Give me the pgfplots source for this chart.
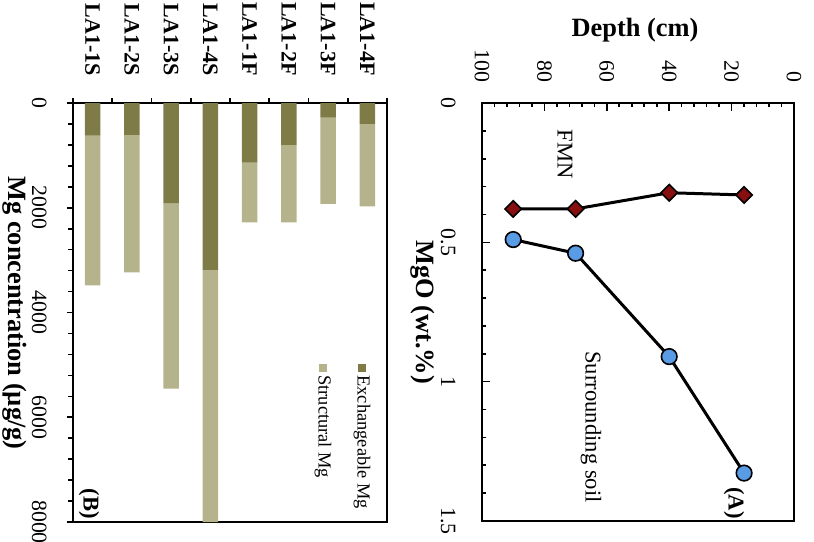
\documentclass[border=0pt]{standalone}
\usepackage{pgfplots}
\pgfplotsset{compat=1.18}
\usepackage{fontspec}
\setmainfont{Liberation Serif}
\definecolor{exch}{RGB}{126,123,71}
\definecolor{struc}{RGB}{181,179,139}
\definecolor{soilblue}{RGB}{90,155,230}
\definecolor{fmnred}{RGB}{135,15,15}
\newcommand{\tickfont}{\fontsize{10.9}{13}\selectfont}
\newcommand{\catfont}{\fontsize{11}{13}\selectfont\bfseries}
\newcommand{\labfont}{\fontsize{13.2}{15}\selectfont\bfseries}
\newcommand{\annfont}{\fontsize{11.3}{13}\selectfont}
\newcommand{\legfont}{\fontsize{9.2}{11}\selectfont}
\begin{document}
\begin{tikzpicture}
\useasboundingbox (0,0) rectangle (407pt,-270.5pt);
% ---------- Panel A ----------
\begin{axis}[
 at={(241pt,-51.5pt)}, anchor=north west, scale only axis,
 width=156pt, height=209pt,
 xmin=0, xmax=100, x dir=reverse,
 ymin=0, ymax=1.5, y dir=reverse,
 xtick={0,20,...,100}, minor x tick num=4,
 ytick={0,0.5,1,1.5}, minor y tick num=4,
 xtick pos=right, xticklabel pos=right, ytick pos=left,
 tick align=inside, major tick length=4pt, minor tick length=2pt,
 axis line style={line width=1pt},
 tick style={black, line width=0.8pt},
 xticklabel style={rotate=-90, anchor=east, inner sep=0pt, font=\tickfont},
 yticklabel style={rotate=-90, anchor=north, inner sep=0pt, font=\tickfont},
 xticklabel shift=10pt, yticklabel shift=13pt,
 /pgf/number format/assume math mode=true,
 clip=false,
]
\addplot[black, line width=1.5pt, mark=square*, mark size=2.9pt,
  mark options={fill=fmnred, line width=0.8pt, solid, rotate=45}]
  coordinates {(90,0.38) (70,0.38) (40,0.322) (16,0.33)};
\addplot[black, line width=1.5pt, mark=*, mark size=3.9pt,
  mark options={fill=soilblue, line width=0.8pt, solid}]
  coordinates {(90,0.49) (70,0.539) (40,0.91) (16,1.328)};
\end{axis}
% ---------- Panel B ----------
\begin{axis}[
 at={(36.5pt,-51.5pt)}, anchor=north west, scale only axis,
 width=157pt, height=209.5pt,
 ybar stacked, bar width=7.75pt,
 xmin=0, xmax=8, ymin=0, ymax=8000, y dir=reverse,
 xtick={0.5,1.5,...,7.5},
 xticklabels={LA1-1S,LA1-2S,LA1-3S,LA1-4S,LA1-1F,LA1-2F,LA1-3F,LA1-4F},
 minor xtick={0,1,...,8},
 ytick={0,2000,...,8000}, minor y tick num=4,
 xtick pos=right, xticklabel pos=right, ytick pos=left,
 tick align=outside, major tick length=3pt, minor tick length=2.5pt,
 major x tick style={draw=none},
 axis line style={line width=1pt},
 tick style={black, line width=0.8pt},
 xticklabel style={rotate=-90, anchor=east, inner sep=0pt, font=\catfont},
 yticklabel style={rotate=-90, anchor=north, inner sep=0pt, font=\tickfont},
 xticklabel shift=10.5pt, yticklabel shift=10pt,
 scaled y ticks=false,
 /pgf/number format/1000 sep={},
 /pgf/number format/assume math mode=true,
]
\addplot[fill=exch, draw=none] coordinates
 {(0.5,622) (1.5,610) (2.5,1911) (3.5,3187) (4.5,1137) (5.5,800) (6.5,280) (7.5,400)};
\addplot[fill=struc, draw=none] coordinates
 {(0.5,2858) (1.5,2622) (2.5,3543) (3.5,4813) (4.5,1143) (5.5,1480) (6.5,1644) (7.5,1575)};
\end{axis}
% ---------- Labels ----------
\node[font=\labfont] at (317.5pt,-15pt) {Depth (cm)};
\node[font=\labfont, rotate=-90] at (211.5pt,-156pt) {MgO (wt.\%)};
\node[font=\labfont, rotate=-90] at (7.5pt,-156.5pt) {Mg concentration (µg/g)};
\node[font=\annfont, rotate=-90] at (282.5pt,-77pt) {FMN};
\node[font=\annfont, rotate=-90] at (295.5pt,-213.5pt) {Surrounding soil};
\node[font=\annfont\bfseries, rotate=-90] at (367pt,-251.5pt) {(A)};
\node[font=\annfont\bfseries, rotate=-90] at (44.5pt,-252pt) {(B)};
\node[font=\legfont, rotate=-90, anchor=west, inner sep=0pt] at (181pt,-182pt)
 {\textcolor{exch}{\rule{4pt}{4pt}}\,Exchangeable Mg};
\node[font=\legfont, rotate=-90, anchor=west, inner sep=0pt] at (161.5pt,-182pt)
 {\textcolor{struc}{\rule{4pt}{4pt}}\,Structural Mg};
\end{tikzpicture}
\end{document}
